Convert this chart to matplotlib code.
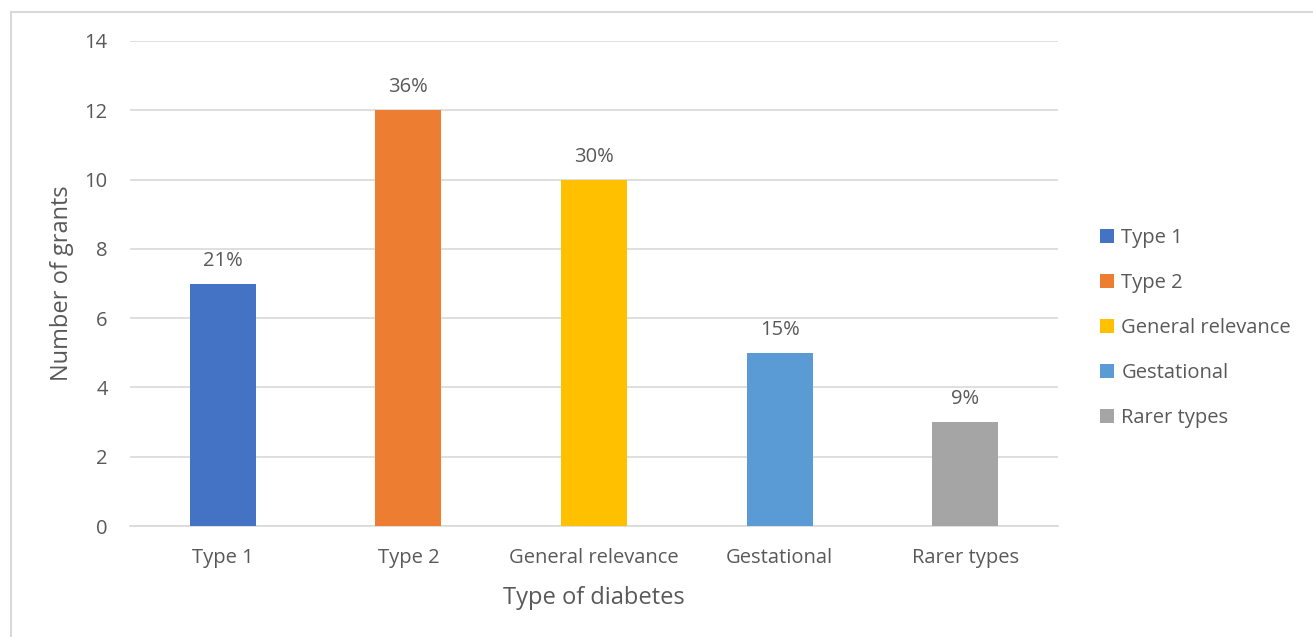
import matplotlib
matplotlib.use("Agg")
import matplotlib.pyplot as plt
from matplotlib.lines import Line2D
from matplotlib.patches import Patch

categories = ["Type 1", "Type 2", "General relevance", "Gestational", "Rarer types"]
grants = [7, 12, 10, 5, 3]
share_labels = ["21%", "36%", "30%", "15%", "9%"]
colors = ["#4472C4", "#ED7D31", "#FFC000", "#5B9BD5", "#A5A5A5"]

plt.rcParams['font.family'] = ['Open Sans', 'DejaVu Sans']
txt = "#595959"
fs = 14.5

fig = plt.figure(figsize=(13.13, 6.37), dpi=100)
# light frame (only left and top edges show in the picture)
fx, fy = 10.5/1313, 1 - 12/637
fig.lines.append(Line2D([fx, fx], [0, fy], transform=fig.transFigure,
                        color="#D9D9D9", linewidth=1.5))
fig.lines.append(Line2D([fx, 1], [fy, fy], transform=fig.transFigure,
                        color="#D9D9D9", linewidth=1.5))

ax = fig.add_axes([130/1313, 1 - 526/637, 928/1313, 485/637])
x = range(len(categories))
bars = ax.bar(x, grants, width=0.355, color=colors, zorder=3)

for b, lab in zip(bars, share_labels):
    ax.text(b.get_x() + b.get_width()/2, b.get_height() + 0.37, lab,
            ha="center", va="bottom", fontsize=fs, color=txt)

ax.set_xlim(-0.5, 4.5)
ax.set_ylim(0, 14)
ax.set_yticks(range(0, 15, 2))
ax.set_xticks(list(x))
ax.set_xticklabels(categories)
ax.grid(axis="y", color="#D9D9D9", linewidth=1.2, zorder=0)
for s in ["top", "right", "left"]:
    ax.spines[s].set_visible(False)
ax.spines["bottom"].set_color("#D9D9D9")
ax.spines["bottom"].set_linewidth(1.2)
ax.tick_params(axis="both", length=0, labelsize=fs, colors=txt)
ax.tick_params(axis="x", pad=15.5)
ax.tick_params(axis="y", pad=16)

ax.set_xlabel("Type of diabetes", fontsize=17, color=txt, labelpad=13)
ax.set_ylabel("Number of grants", fontsize=17, color=txt, labelpad=8)

handles = [Patch(facecolor=c, label=n) for c, n in zip(colors, categories)]
fig.legend(handles=handles, loc="center left", bbox_to_anchor=(1082/1313, 1 - 328/637),
           frameon=False, fontsize=fs, labelcolor=txt, handlelength=0.7,
           handleheight=0.7, handletextpad=0.35, labelspacing=1.25)

fig.savefig("out.png", dpi=100)
